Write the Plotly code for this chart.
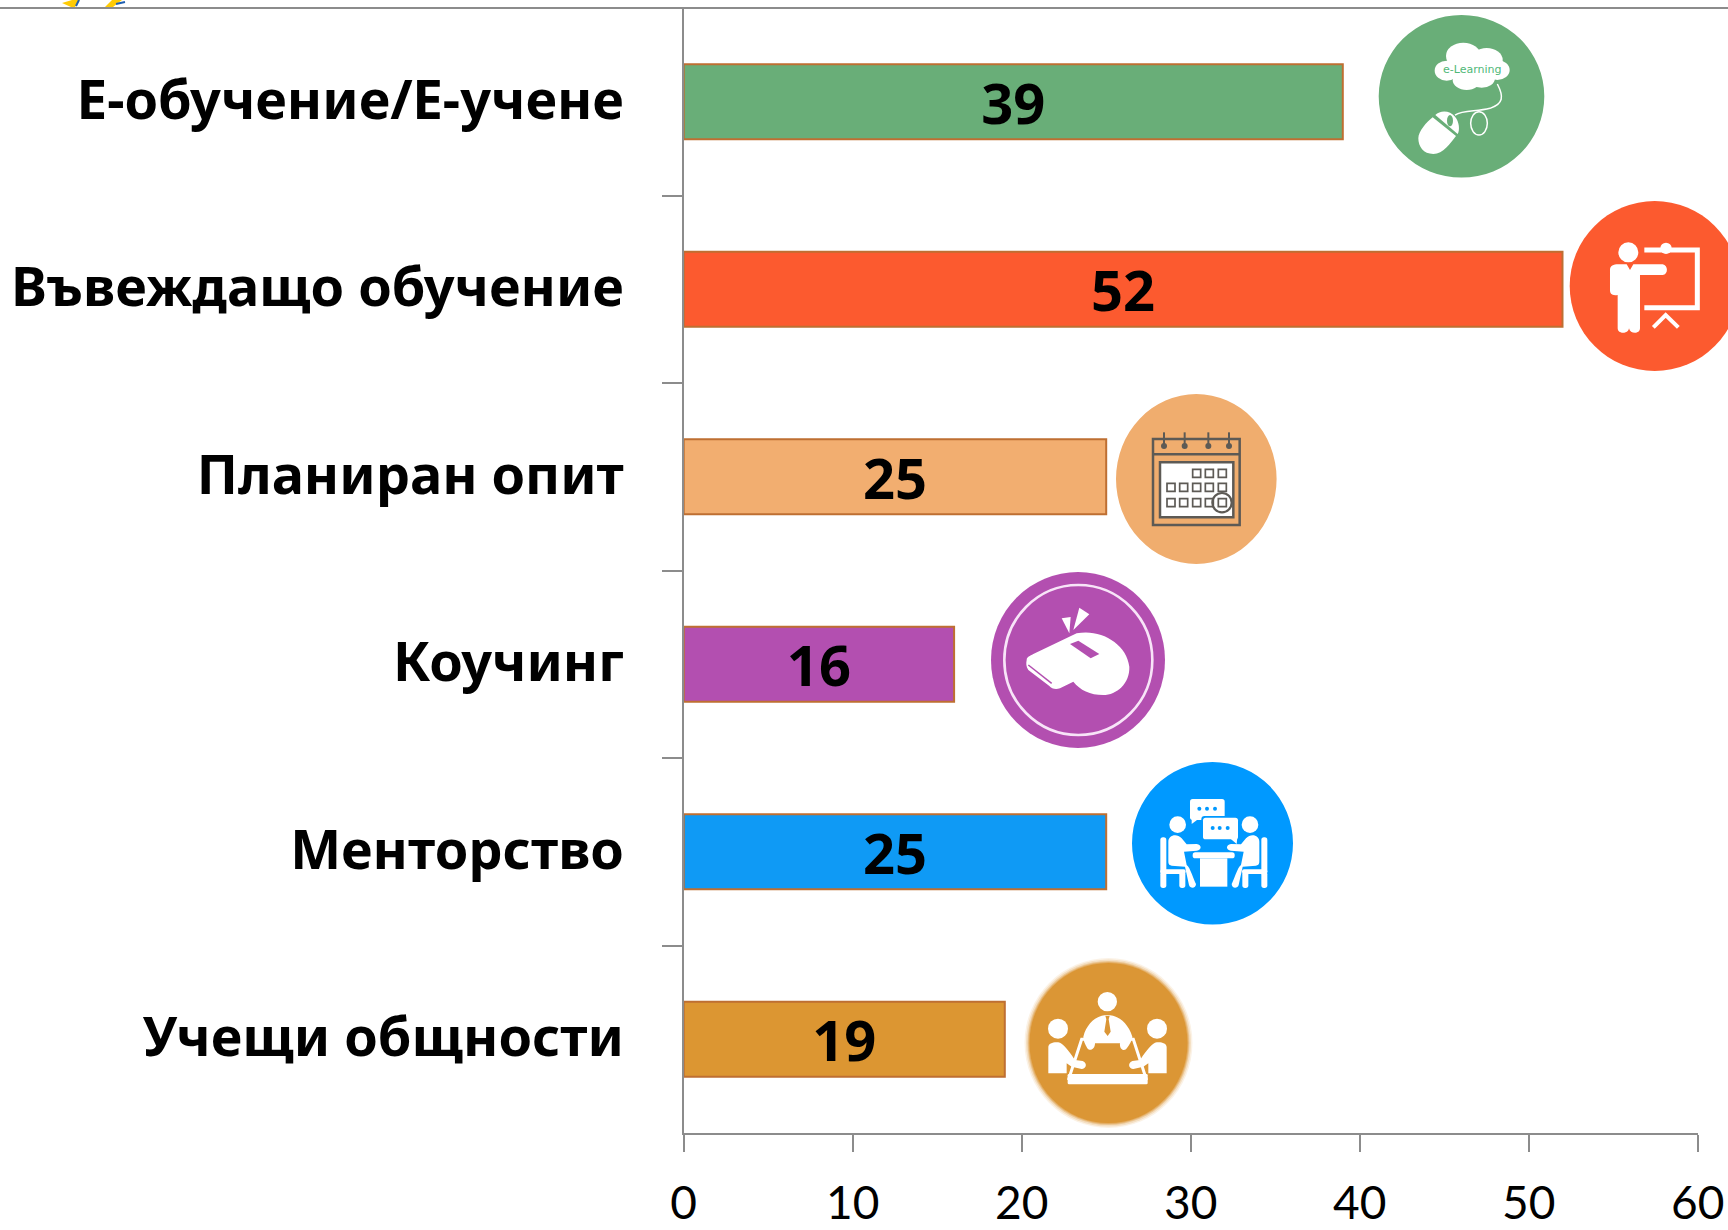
import re
import plotly.graph_objects as go

categories = ["Е-обучение/Е-учене", "Въвеждащо обучение", "Планиран опит",
              "Коучинг", "Менторство", "Учещи общности"]
values = [39, 52, 25, 16, 25, 19]
bar_colors = ["#69AE78", "#FC5A2F", "#F2AE70", "#B34FB0", "#0F9AF5", "#DC9632"]
x_ticks = [0, 10, 20, 30, 40, 50, 60]

W, H = 1728, 1230
AX_L, AX_R, AX_T, AX_B = 683.7, 1697.7, 8.0, 1133.0
GRAY = "#8C8C8C"
FONT = "Noto Sans"

shapes = []


def fx(x):
    return x / W


def fy(y):
    return 1 - y / H


def path_str(org, d, mirror=None):
    ox, oy = org
    toks = re.findall(r"[MLCQZ]|-?\d+\.?\d*", d)
    out, is_x = [], True
    for t in toks:
        if t in "MLCQZ":
            out.append(t)
            is_x = True
        elif is_x:
            v = float(t)
            if mirror is not None:
                v = 2 * mirror - v
            out.append(f"{fx(ox + v / 3):.5f}")
            is_x = False
        else:
            out.append(f"{fy(oy + float(t) / 3):.5f}")
            is_x = True
    return " ".join(out)


def fill(org, d, color="white", mirror=None):
    shapes.append(dict(type="path", xref="paper", yref="paper", layer="above",
                       path=path_str(org, d, mirror), fillcolor=color,
                       line=dict(width=0)))


def stroke(org, d, color="white", w=2.0, mirror=None):
    shapes.append(dict(type="path", xref="paper", yref="paper", layer="above",
                       path=path_str(org, d, mirror), fillcolor="rgba(0,0,0,0)",
                       line=dict(color=color, width=w)))


def ell_px(cx, cy, rx, ry, color=None, line=None, w=0, opacity=None):
    s = dict(type="circle", xref="paper", yref="paper", layer="above",
             x0=fx(cx - rx), x1=fx(cx + rx), y0=fy(cy + ry), y1=fy(cy - ry),
             fillcolor=color if color else "rgba(0,0,0,0)",
             line=dict(color=line if line else "rgba(0,0,0,0)", width=w))
    if opacity is not None:
        s["opacity"] = opacity
    shapes.append(s)


def ell(org, cx, cy, rx, ry=None, color="white", line=None, w=0):
    ry = rx if ry is None else ry
    ell_px(org[0] + cx / 3, org[1] + cy / 3, rx / 3, ry / 3, color, line, w)


def rrect(org, x0, y0, x1, y1, r=8, color="white", mirror=None):
    d = (f"M {x0 + r} {y0} L {x1 - r} {y0} Q {x1} {y0} {x1} {y0 + r} L {x1} {y1 - r} "
         f"Q {x1} {y1} {x1 - r} {y1} L {x0 + r} {y1} Q {x0} {y1} {x0} {y1 - r} "
         f"L {x0} {y0 + r} Q {x0} {y0} {x0 + r} {y0} Z")
    fill(org, d, color, mirror)


# ---- icon 1: e-learning
O = (1300, 0)
C1 = "#69AE78"
ell_px(1461.5, 96.3, 82.8, 81.3, C1)
for cx, cy, rx, ry in [(490, 168, 52, 40), (560, 180, 48, 36), (440, 212, 36, 30),
                       (592, 210, 37, 30), (500, 240, 42, 30), (545, 235, 40, 28),
                       (515, 208, 70, 28)]:
    ell(O, cx, cy, rx, ry)
stroke(O, "M 592 252 C 612 290 610 312 570 325 C 530 336 490 328 465 345 ", "white", 1.5)
ell(O, 537, 370, 25, 35, color=None, line="white", w=1.5)
fill(O, "M 355 415 C 355 395 380 365 398 352 L 468 408 C 450 430 430 462 400 462 "
        "C 370 462 355 440 355 415 Z")
fill(O, "M 406 345 C 420 330 450 330 465 350 C 478 365 480 390 473 402 Z")
ell(O, 450, 362, 9, 17, color=C1)

# ---- icon 2: presenter
C2 = "#FC5A2F"
ell_px(1654.7, 286, 85, 85, C2)
ell(O, 985, 757, 30)
ell(O, 1098, 745, 17)
stroke(O, "M 1033 750 L 1192 750 L 1192 923 L 1033 923", "white", 5)
fill(O, "M 930 810 C 930 797 940 793 955 793 L 980 793 L 990 810 L 1000 793 L 1088 793 "
        "C 1105 795 1105 825 1088 825 L 1020 825 L 1020 985 C 1020 1003 990 1003 987 985 "
        "C 985 1003 953 1003 953 985 L 953 885 C 935 888 930 880 930 870 Z")
stroke(O, "M 1060 982 L 1097 945 L 1135 982", "white", 4)

# ---- icon 3: calendar
O = (1000, 380)
DK = "#5D5A55"
ell_px(1196.3, 479, 80.3, 85, "#F0AD6E")
stroke(O, "M 459 177 L 719 177 L 719 435 L 459 435 Z", DK, 2.5)
stroke(O, "M 459 223 L 719 223", DK, 2.5)
for rx_ in [492, 554, 625, 687]:
    stroke(O, f"M {rx_} 157 L {rx_} 195", DK, 2)
    ell(O, rx_, 198, 9, color=DK)
shapes.append(dict(type="path", xref="paper", yref="paper", layer="above",
                   path=path_str(O, "M 480 247 L 700 247 L 700 412 L 480 412 Z"),
                   fillcolor="white", line=dict(color=DK, width=2.5)))
for row_y, cols in [(280, [590, 628, 667]),
                    (322, [513, 551, 590, 628, 667]),
                    (368, [513, 551, 590, 628, 667])]:
    for c in cols:
        stroke(O, f"M {c - 12} {row_y - 12} L {c + 12} {row_y - 12} L {c + 12} {row_y + 12} "
                  f"L {c - 12} {row_y + 12} Z", DK, 1.7)
ell(O, 666, 368, 29, color=None, line=DK, w=2.2)

# ---- icon 4: whistle
C4 = "#B34FB0"
ell_px(1078, 660, 87, 88, C4)
ell(O, 235, 840, 222, 225, color=None, line="#F8E4F8", w=2.6)
fill(O, "M 185 715 L 212 711 L 208 760 Z")
fill(O, "M 238 683 L 268 703 L 220 750 Z")
fill(O, "M 80 840 C 80 830 90 828 100 822 L 230 760 C 300 745 380 790 388 860 "
        "C 390 910 350 945 310 945 C 270 945 240 930 220 905 L 180 925 C 165 930 155 925 148 918 "
        "L 85 870 C 78 860 78 850 80 840 Z")
fill(O, "M 210 792 L 235 782 L 298 822 L 272 835 Z", C4)
stroke(O, "M 85 855 L 155 910", C4, 1.5)

# ---- icon 5: mentoring
O = (1000, 750)
C5 = "#0099FF"
ell_px(1212.5, 843.3, 80.5, 81.3, C5)
rrect(O, 570, 147, 674, 210, 8)
fill(O, "M 575 205 L 575 222 L 595 207 Z")
rrect(O, 604, 198, 718, 272, 10, C5)
rrect(O, 609, 203, 714, 268, 8)
fill(O, "M 690 265 L 710 282 L 712 262 Z")
for cx_, cy_ in [(598, 176), (621, 176), (645, 176), (638, 234), (659, 234), (683, 234)]:
    ell(O, cx_, cy_, 6, color=C5)
rrect(O, 578, 307, 704, 325, 8)
fill(O, "M 600 325 L 682 325 L 682 410 L 600 410 Z")
MID5 = 641.5
for m in (None, MID5):
    ell(O, 533 if m is None else 2 * m - 533, 224, 25)
    fill(O, "M 505 275 C 505 255 530 248 545 265 L 560 283 L 590 282 C 606 285 606 300 590 302 "
            "L 552 305 L 560 345 C 570 350 583 395 588 402 C 588 416 570 416 567 405 "
            "L 555 350 L 515 347 C 505 345 505 340 505 330 Z", mirror=m)
    rrect(O, 481, 262, 499, 372, 8, mirror=m)
    rrect(O, 481, 358, 557, 372, 6, mirror=m)
    rrect(O, 481, 365, 499, 414, 8, mirror=m)
    rrect(O, 538, 365, 556, 414, 8, mirror=m)

# ---- icon 6: community
C6 = "#DB9635"
for grow, op in [(5, 0.12), (3.5, 0.2), (2, 0.35), (1, 0.5)]:
    ell_px(1108.5, 1043, 79 + grow, 80 + grow, C6, opacity=op)
ell_px(1108.5, 1043, 79, 80, C6)
MID6 = 322.5
ell(O, 322, 755, 29)
fill(O, "M 250 860 C 260 820 290 795 322 795 C 355 795 385 820 397 860 C 396 872 390 882 378 898 "
        "C 368 905 358 895 360 880 L 285 880 C 285 898 270 905 262 895 C 255 882 250 872 250 860 Z")
fill(O, "M 316 797 L 329 797 L 326 808 L 332 845 L 323 858 L 313 845 L 319 808 Z", C6)
stroke(O, "M 245 868 L 400 868 L 438 985 L 207 985 Z", "white", 3)
rrect(O, 203, 972, 443, 1003, 4)
for m in (None, MID6):
    ell(O, 174 if m is None else 2 * m - 174, 836, 30)
    fill(O, "M 145 892 C 145 878 165 875 180 878 C 195 885 215 915 225 930 L 248 933 "
            "C 264 940 258 957 245 957 L 215 950 L 200 940 L 200 970 L 145 970 Z", mirror=m)

# ---- logo fragments above the top rule, and the rule itself
fill((0, 0), "M 186 9 L 216 0 L 240 0 L 225 21 L 213 21 Z", "#FFCB05")
fill((0, 0), "M 315 21 L 336 0 L 366 0 L 339 21 Z", "#FFCB05")
stroke((0, 0), "M 237 0 L 228 18", "#1F5FB0", 2)
stroke((0, 0), "M 348 12 L 375 6", "#1F5FB0", 2)
shapes.append(dict(type="line", xref="paper", yref="paper", layer="below",
                   x0=0, x1=1, y0=fy(AX_T), y1=fy(AX_T),
                   line=dict(color=GRAY, width=2)))

fig = go.Figure(go.Bar(
    y=categories, x=values, orientation="h",
    marker=dict(color=bar_colors, line=dict(color="#BE6F32", width=2)),
    text=values, textposition="inside", insidetextanchor="middle", textangle=0,
    constraintext="none", cliponaxis=False,
    textfont=dict(family=FONT, size=56, color="black", weight="bold"),
    hoverinfo="skip", width=0.4,
))
fig.update_layout(
    width=W, height=H, margin=dict(l=0, r=0, t=0, b=0), autosize=False,
    paper_bgcolor="white", plot_bgcolor="white", showlegend=False,
    font=dict(family=FONT, color="black"),
    shapes=shapes,
    annotations=[dict(text="e-Learning", xref="paper", yref="paper",
                      x=fx(1300 + 516 / 3), y=fy(208 / 3), showarrow=False,
                      xanchor="center", yanchor="middle",
                      font=dict(family="DejaVu Sans", size=11, color="#4FB878"))],
    xaxis=dict(domain=[AX_L / W, AX_R / W], range=[0, 60], tickvals=x_ticks,
               automargin=False,
               showgrid=False, zeroline=False, showline=True, linecolor=GRAY, linewidth=2,
               ticks="outside", ticklen=17, tickwidth=2, tickcolor=GRAY,
               ticklabelstandoff=12,
               tickfont=dict(family="Lato", size=46, color="black")),
    yaxis=dict(domain=[1 - AX_B / H, 1 - AX_T / H], type="category",
               automargin=False,
               categoryorder="array", categoryarray=categories, autorange="reversed",
               showgrid=False, zeroline=False, showline=True, linecolor=GRAY, linewidth=2,
               ticks="outside", tickson="boundaries", ticklen=20, tickwidth=2, tickcolor=GRAY,
               ticklabelstandoff=47, ticklabelshift=2,
               tickfont=dict(family=FONT, size=54, color="black", weight="bold")),
)
fig.write_html("out.html", config=dict(displayModeBar=False, responsive=False),
               post_script=(
    "document.body.style.margin='0';document.body.style.overflow='hidden';"
    "document.documentElement.style.overflow='hidden';"))
